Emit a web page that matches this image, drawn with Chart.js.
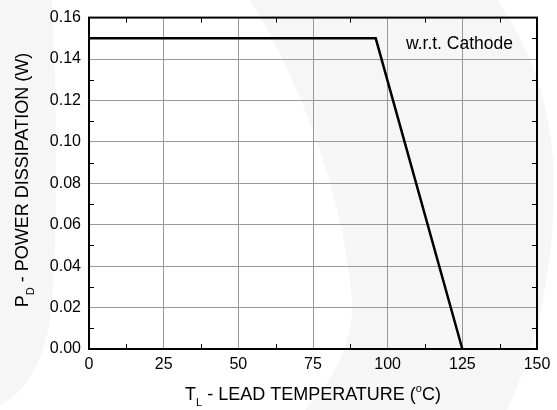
<!DOCTYPE html>
<html><head><meta charset="utf-8">
<script src="https://cdn.jsdelivr.net/npm/chart.js@4"></script>
<style>html,body{margin:0;padding:0;background:#fff}#w{width:557px;height:410px}</style>
</head><body><div id="w"><canvas id="c" width="557" height="410"></canvas></div>
<script>
// Data
const temperature = [0, 96, 125];
const power = [0.15, 0.15, 0];
const xTickValues = [0, 25, 50, 75, 100, 125, 150];
const yTickValues = [0, 0.02, 0.04, 0.06, 0.08, 0.10, 0.12, 0.14, 0.16];
const xMinorStep = 12.5;
const yMinorStep = 0.01;
const annotationText = 'w.r.t. Cathode';
const xTitle = [{t:'T'},{t:'L',sub:true},{t:' - LEAD TEMPERATURE ('},{t:'o',sup:true},{t:'C)'}];
const yTitle = [{t:'P'},{t:'D',sub:true},{t:' - POWER DISSIPATION (W)'}];

const FONT = '"Liberation Sans", Arial, Helvetica, sans-serif';

function drawRich(ctx, segs, size) {
  let total = 0;
  const parts = segs.map(s => {
    const fs = (s.sub || s.sup) ? Math.round(size * 0.6) : size;
    ctx.font = fs + 'px ' + FONT;
    const w = ctx.measureText(s.t).width;
    total += w;
    return {s, fs, w};
  });
  let x = -total / 2;
  ctx.textBaseline = 'alphabetic';
  ctx.textAlign = 'left';
  parts.forEach(p => {
    ctx.font = p.fs + 'px ' + FONT;
    let dy = 0;
    if (p.s.sub) dy = size * 0.35;
    if (p.s.sup) dy = -size * 0.42;
    ctx.fillText(p.s.t, x, dy);
    x += p.w;
  });
}

const decor = {
  id: 'decor',
  beforeDraw(chart) {
    const ctx = chart.ctx;
    ctx.save();
    ctx.fillStyle = '#ffffff';
    ctx.fillRect(0, 0, chart.width, chart.height);
    ctx.fillStyle = '#f6f6f6';
    ctx.beginPath();
    ctx.moveTo(0, 0); ctx.lineTo(52, 0);
    ctx.bezierCurveTo(58, 120, 58, 250, 50, 320);
    ctx.bezierCurveTo(42, 370, 20, 395, 0, 405);
    ctx.closePath(); ctx.fill();
    ctx.beginPath();
    ctx.moveTo(250, 0); ctx.lineTo(497, 0);
    ctx.bezierCurveTo(525, 40, 548, 90, 553, 160);
    ctx.bezierCurveTo(558, 250, 540, 340, 507, 410);
    ctx.lineTo(305, 410);
    ctx.bezierCurveTo(335, 380, 354, 340, 352, 300);
    ctx.bezierCurveTo(345, 200, 300, 80, 250, 0);
    ctx.closePath(); ctx.fill();
    ctx.restore();
  },
  beforeDatasetsDraw(chart) {
    const {ctx, chartArea: a, scales: {x, y}} = chart;
    ctx.save();
    ctx.strokeStyle = '#000';
    ctx.lineWidth = 1;
    const L = 5;
    ctx.beginPath();
    for (let v = xMinorStep; v < 150; v += xMinorStep * 2) {
      const px = Math.round(x.getPixelForValue(v)) + 0.5;
      ctx.moveTo(px, a.bottom); ctx.lineTo(px, a.bottom - L);
      ctx.moveTo(px, a.top); ctx.lineTo(px, a.top + L);
    }
    for (let v = yMinorStep; v < 0.16; v += yMinorStep * 2) {
      const py = Math.round(y.getPixelForValue(v)) + 0.5;
      ctx.moveTo(a.left, py); ctx.lineTo(a.left + L, py);
      ctx.moveTo(a.right, py); ctx.lineTo(a.right - L, py);
    }
    ctx.stroke();
    ctx.restore();
  },
  afterDatasetsDraw(chart) {
    const {ctx, chartArea: a} = chart;
    ctx.save();
    ctx.strokeStyle = '#000';
    ctx.lineWidth = 2;
    ctx.strokeRect(a.left, a.top, a.right - a.left, a.bottom - a.top);
    ctx.fillStyle = '#000';
    ctx.font = '17.5px ' + FONT;
    ctx.textAlign = 'left';
    ctx.textBaseline = 'middle';
    ctx.fillText(annotationText, 406, 44);
    ctx.save();
    ctx.translate(313, 400);
    drawRich(ctx, xTitle, 18);
    ctx.restore();
    ctx.save();
    ctx.translate(28, 180);
    ctx.rotate(-Math.PI / 2);
    drawRich(ctx, yTitle, 18);
    ctx.restore();
    ctx.restore();
  }
};

new Chart(document.getElementById('c'), {
  type: 'scatter',
  data: {
    datasets: [{
      data: temperature.map((t, i) => ({x: t, y: power[i]})),
      showLine: true,
      borderColor: '#000',
      borderWidth: 2.5,
      pointRadius: 0,
      tension: 0,
      fill: false
    }]
  },
  options: {
    responsive: false,
    animation: false,
    devicePixelRatio: 1,
    layout: {padding: {top: 15, right: 20, left: 0, bottom: 0}},
    plugins: {legend: {display: false}, tooltip: {enabled: false}},
    scales: {
      x: {
        type: 'linear', min: 0, max: 150,
        afterFit(s) { s.height = 61; },
        afterBuildTicks(s) { s.ticks = xTickValues.map(v => ({value: v})); },
        ticks: {color: '#000', font: {family: FONT, size: 16}, padding: 6, maxRotation: 0,
          callback: v => String(v)},
        grid: {color: '#999', lineWidth: 1, drawTicks: false},
        border: {display: true, color: '#000', width: 2}
      },
      y: {
        type: 'linear', min: 0, max: 0.16,
        afterFit(s) { s.width = 89; },
        afterBuildTicks(s) { s.ticks = yTickValues.map(v => ({value: v})); },
        ticks: {color: '#000', font: {family: FONT, size: 16}, padding: 8,
          callback: v => Number(v).toFixed(2)},
        grid: {color: '#999', lineWidth: 1, drawTicks: false},
        border: {display: true, color: '#000', width: 2}
      }
    }
  },
  plugins: [decor]
});
</script>
</body></html>
